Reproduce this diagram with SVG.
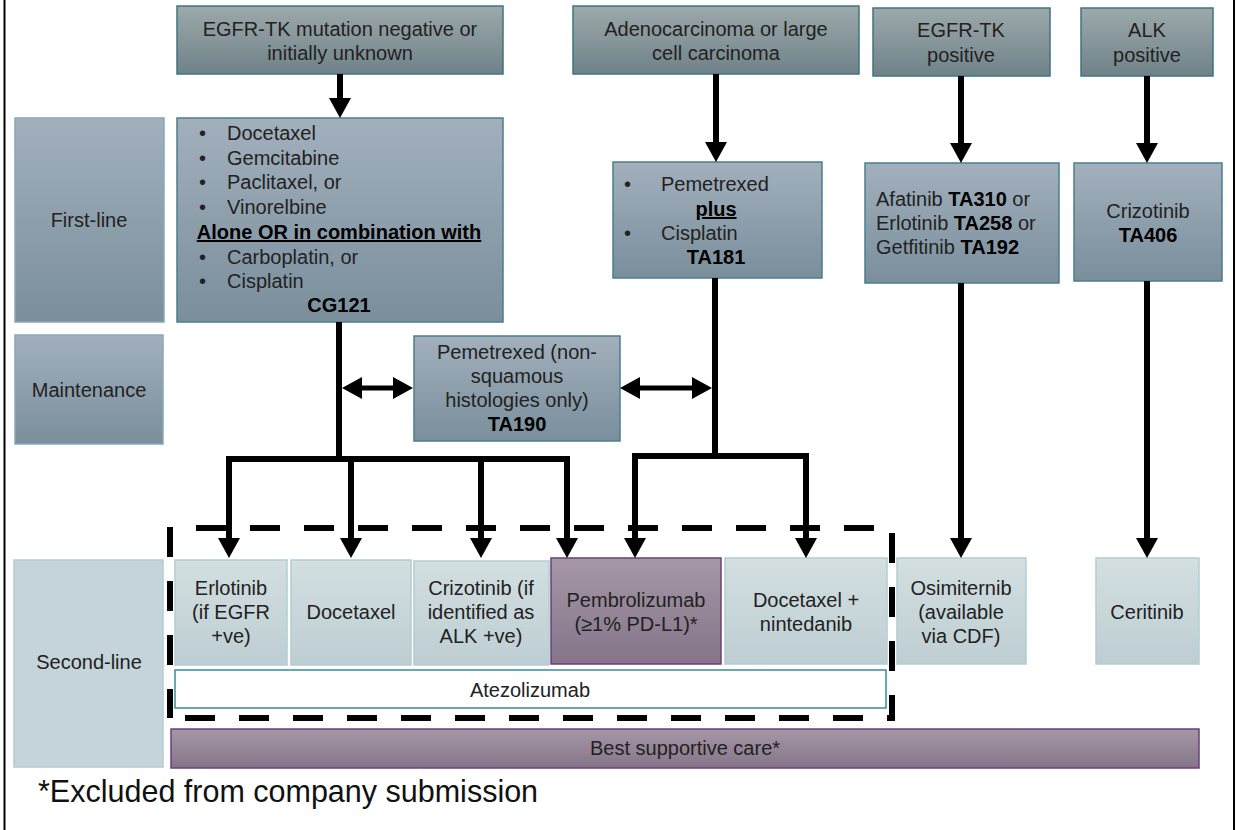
<svg xmlns="http://www.w3.org/2000/svg" width="1237" height="830" viewBox="0 0 1237 830">
  <defs>
    <linearGradient id="gHead" x1="0" y1="0" x2="0" y2="1">
      <stop offset="0" stop-color="#9da9ab"/>
      <stop offset="1" stop-color="#6f8289"/>
    </linearGradient>
    <linearGradient id="gBlue" x1="0" y1="0" x2="0" y2="1">
      <stop offset="0" stop-color="#a2b0bc"/>
      <stop offset="1" stop-color="#7a8e9c"/>
    </linearGradient>
    <linearGradient id="gLight" x1="0" y1="0" x2="0" y2="1">
      <stop offset="0" stop-color="#d3dfe1"/>
      <stop offset="1" stop-color="#bdced2"/>
    </linearGradient>
    <linearGradient id="gPurple" x1="0" y1="0" x2="0" y2="1">
      <stop offset="0" stop-color="#a598a6"/>
      <stop offset="1" stop-color="#857489"/>
    </linearGradient>
    <marker id="ah" viewBox="0 0 20 22" refX="8" refY="11" markerWidth="20" markerHeight="22" markerUnits="userSpaceOnUse" orient="auto-start-reverse">
      <path d="M0,0 L20,11 L0,22 z" fill="#000"/>
    </marker>
  </defs>
  <style>
    text { font-family: "Liberation Sans", Arial, sans-serif; font-size: 20px; fill: #222; }
    .c { text-anchor: middle; }
    .b { font-weight: bold; fill: #000; }
    .u { text-decoration: underline; }
    .head { fill: url(#gHead); stroke: #3c7580; stroke-width: 1.5; }
    .blue { fill: url(#gBlue); stroke: #4a7f8e; stroke-width: 1.5; }
    .lbl { fill: url(#gBlue); stroke: #86a9b6; stroke-width: 1.5; }
    .light { fill: url(#gLight); stroke: #b3cdd2; stroke-width: 1.5; }
    .purple { fill: url(#gPurple); stroke: #6b3f78; stroke-width: 1.5; }
    .white { fill: #fff; stroke: #3a8a94; stroke-width: 1.5; }
    .ln { fill: none; stroke: #000; stroke-width: 6; }
    .ar { marker-end: url(#ah); }
    .dbl { marker-start: url(#ah); marker-end: url(#ah); }
    .dash { fill: none; stroke: #000; stroke-width: 6; stroke-dasharray: 30 24; }
    .frame { stroke: #000; stroke-width: 2; }
  </style>

  <rect width="1237" height="830" fill="#fff"/>
  <line class="frame" x1="4.5" y1="0" x2="4.5" y2="830"/>
  <line class="frame" x1="1234" y1="0" x2="1234" y2="830"/>

  <!-- Header nodes -->
  <g id="egfr-neg">
    <rect class="head" x="177" y="6" width="326" height="68"/>
    <text class="c" x="340" y="36">EGFR-TK mutation negative or</text>
    <text class="c" x="340" y="60">initially unknown</text>
  </g>
  <g id="adeno">
    <rect class="head" x="573" y="6" width="286" height="68"/>
    <text class="c" x="716" y="36">Adenocarcinoma or large</text>
    <text class="c" x="716" y="60">cell carcinoma</text>
  </g>
  <g id="egfr-pos">
    <rect class="head" x="873" y="8" width="177" height="68"/>
    <text class="c" x="961" y="37">EGFR-TK</text>
    <text class="c" x="961" y="62">positive</text>
  </g>
  <g id="alk-pos">
    <rect class="head" x="1081" y="8" width="132" height="68"/>
    <text class="c" x="1147" y="37">ALK</text>
    <text class="c" x="1147" y="62">positive</text>
  </g>

  <!-- Row labels -->
  <g id="first-line">
    <rect class="lbl" x="15" y="118" width="149" height="204"/>
    <text class="c" x="89" y="227">First-line</text>
  </g>
  <g id="maintenance">
    <rect class="lbl" x="15" y="335" width="148" height="109"/>
    <text class="c" x="89" y="397">Maintenance</text>
  </g>
  <g id="second-line">
    <rect class="light" x="14" y="560" width="149" height="207" style="fill:#c4d4d8"/>
    <text class="c" x="89" y="669">Second-line</text>
  </g>

  <!-- First-line nodes -->
  <g id="cg121">
    <rect class="blue" x="177" y="118" width="326" height="204"/>
    <text x="199" y="140">•</text><text x="227" y="140">Docetaxel</text>
    <text x="199" y="165">•</text><text x="227" y="165">Gemcitabine</text>
    <text x="199" y="189">•</text><text x="227" y="189">Paclitaxel, or</text>
    <text x="199" y="214">•</text><text x="227" y="214">Vinorelbine</text>
    <text class="c b u" x="339" y="239">Alone OR in combination with</text>
    <text x="199" y="264">•</text><text x="227" y="264">Carboplatin, or</text>
    <text x="199" y="288">•</text><text x="227" y="288">Cisplatin</text>
    <text class="c b" x="339" y="312">CG121</text>
  </g>
  <g id="ta181">
    <rect class="blue" x="613" y="162" width="209" height="116"/>
    <text x="624" y="191">•</text><text x="661" y="191">Pemetrexed</text>
    <text class="c b u" x="716" y="216">plus</text>
    <text x="624" y="240">•</text><text x="661" y="240">Cisplatin</text>
    <text class="c b" x="716" y="264">TA181</text>
  </g>
  <g id="egfr-tki">
    <rect class="blue" x="865" y="163" width="194" height="120"/>
    <text x="876" y="206">Afatinib <tspan class="b">TA310</tspan> or</text>
    <text x="876" y="230">Erlotinib <tspan class="b">TA258</tspan> or</text>
    <text x="876" y="254">Getfitinib <tspan class="b">TA192</tspan></text>
  </g>
  <g id="ta406">
    <rect class="blue" x="1074" y="163" width="148" height="118"/>
    <text class="c" x="1148" y="218">Crizotinib</text>
    <text class="c b" x="1148" y="242">TA406</text>
  </g>

  <!-- Maintenance node -->
  <g id="ta190">
    <rect class="blue" x="414" y="336" width="206" height="105"/>
    <text class="c" x="517" y="359">Pemetrexed (non-</text>
    <text class="c" x="517" y="383">squamous</text>
    <text class="c" x="517" y="407">histologies only)</text>
    <text class="c b" x="517" y="431">TA190</text>
  </g>

  <!-- Second-line nodes -->
  <g id="erlotinib">
    <rect class="light" x="175" y="560" width="112" height="105"/>
    <text class="c" x="231" y="595">Erlotinib</text>
    <text class="c" x="231" y="619">(if EGFR</text>
    <text class="c" x="231" y="643">+ve)</text>
  </g>
  <g id="docetaxel">
    <rect class="light" x="291" y="560" width="120" height="105"/>
    <text class="c" x="351" y="619">Docetaxel</text>
  </g>
  <g id="crizotinib-2">
    <rect class="light" x="414" y="561" width="135" height="104"/>
    <text class="c" x="481" y="595">Crizotinib (if</text>
    <text class="c" x="481" y="619">identified as</text>
    <text class="c" x="481" y="643">ALK +ve)</text>
  </g>
  <g id="pembrolizumab">
    <rect class="purple" x="551" y="558" width="170" height="106"/>
    <text class="c" x="636" y="607">Pembrolizumab</text>
    <text class="c" x="636" y="631">(≥1% PD-L1)*</text>
  </g>
  <g id="docetaxel-nintedanib">
    <rect class="light" x="725" y="558" width="162" height="106"/>
    <text class="c" x="806" y="607">Docetaxel +</text>
    <text class="c" x="806" y="631">nintedanib</text>
  </g>
  <g id="osimiternib">
    <rect class="light" x="897" y="558" width="129" height="106"/>
    <text class="c" x="961" y="595">Osimiternib</text>
    <text class="c" x="961" y="619">(available</text>
    <text class="c" x="961" y="643">via CDF)</text>
  </g>
  <g id="ceritinib">
    <rect class="light" x="1096" y="558" width="103" height="106"/>
    <text class="c" x="1147" y="619">Ceritinib</text>
  </g>
  <g id="atezolizumab">
    <rect class="white" x="175" y="670" width="711" height="38"/>
    <text class="c" x="530" y="697">Atezolizumab</text>
  </g>
  <g id="bsc">
    <rect class="purple" x="171" y="729" width="1028" height="39"/>
    <text class="c" x="685" y="755">Best supportive care*</text>
  </g>

  <!-- Dashed grouping -->
  <g id="dashed-group">
    <line class="dash" x1="196" y1="528" x2="880" y2="528"/>
    <line class="dash" x1="185" y1="718" x2="895" y2="718"/>
    <line class="dash" x1="170" y1="527" x2="170" y2="718"/>
    <line class="dash" x1="892" y1="533" x2="892" y2="718"/>
  </g>

  <!-- Connectors -->
  <g id="connectors">
    <path class="ln ar" d="M340,74 V106"/>
    <path class="ln ar" d="M716,74 V150"/>
    <path class="ln ar" d="M961,76 V151"/>
    <path class="ln ar" d="M1147,76 V151"/>

    <path class="ln" d="M339,322 V462"/>
    <path class="ln" d="M226,459 H570"/>
    <path class="ln ar" d="M229,456 V546"/>
    <path class="ln ar" d="M351,459 V546"/>
    <path class="ln ar" d="M481,459 V546"/>
    <path class="ln ar" d="M567,456 V546"/>

    <path class="ln" d="M715,278 V459"/>
    <path class="ln" d="M632,456 H809"/>
    <path class="ln ar" d="M635,453 V546"/>
    <path class="ln ar" d="M806,453 V546"/>

    <path class="ln ar" d="M961,283 V546"/>
    <path class="ln ar" d="M1147,281 V546"/>

    <path class="ln dbl" d="M354,388 H401" style="stroke-width:5"/>
    <path class="ln dbl" d="M632,388 H700" style="stroke-width:5"/>
  </g>

  <text x="38" y="802" style="font-size:30.5px;fill:#111">*Excluded from company submission</text>
</svg>
